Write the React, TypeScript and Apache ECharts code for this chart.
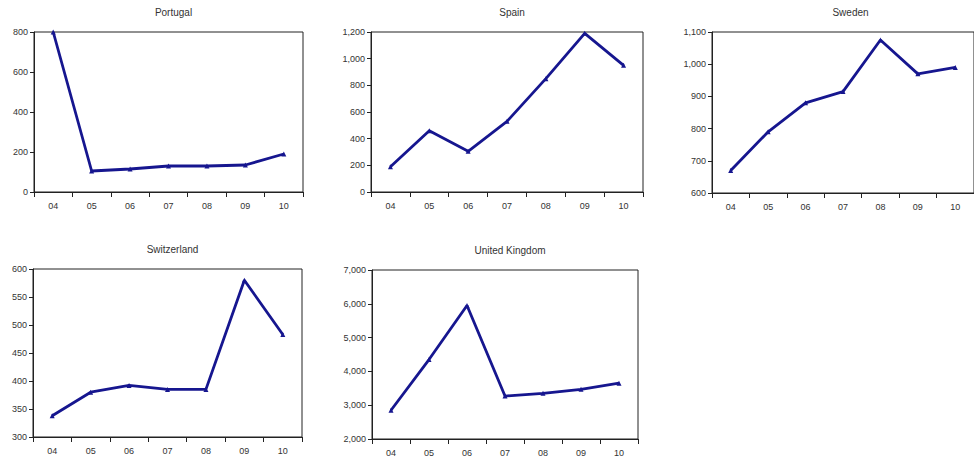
import React, { useEffect, useRef } from "react";
import * as echarts from "echarts";

const years = ["04", "05", "06", "07", "08", "09", "10"];
const portugal = [800, 105, 115, 130, 130, 135, 190];
const spain = [190, 460, 305, 530, 850, 1190, 950];
const sweden = [670, 790, 880, 915, 1075, 970, 990];
const switzerland = [338, 380, 392, 385, 385, 580, 483];
const uk = [2850, 4350, 5950, 3270, 3350, 3470, 3650];

const panels = [
  { name: "Portugal", data: portugal, min: 0, max: 800, interval: 200, grid: { left: 34, top: 32, width: 269, height: 160 } },
  { name: "Spain", data: spain, min: 0, max: 1200, interval: 200, grid: { left: 371, top: 32, width: 272, height: 160 } },
  { name: "Sweden", data: sweden, min: 600, max: 1100, interval: 100, grid: { left: 712, top: 32, width: 267, height: 161 } },
  { name: "Switzerland", data: switzerland, min: 300, max: 600, interval: 50, grid: { left: 33, top: 269, width: 269, height: 168 } },
  { name: "United Kingdom", data: uk, min: 2000, max: 7000, interval: 1000, grid: { left: 372, top: 270, width: 266, height: 169 } },
];

const LINE = "#16168f";
const FONT = "Liberation Sans";

export default function App() {
  const ref = useRef<HTMLDivElement>(null);
  useEffect(() => {
    document.body.style.margin = "0";
    const chart = echarts.init(ref.current!, undefined, { renderer: "svg" });
    const fmt = (v: number) => v.toLocaleString("en-US");
    chart.setOption({
      animation: false,
      backgroundColor: "#ffffff",
      title: panels.map((p) => ({
        text: p.name,
        left: p.grid.left + p.grid.width / 2,
        top: p.grid.top - 30,
        textAlign: "center",
        textStyle: { fontFamily: FONT, fontSize: 10, fontWeight: "normal", color: "#333" },
      })),
      grid: panels.map((p) => ({
        ...p.grid,
        show: true,
        borderColor: "#222",
        borderWidth: 1,
        containLabel: false,
      })),
      xAxis: panels.map((p, i) => ({
        type: "category",
        gridIndex: i,
        data: years,
        boundaryGap: true,
        axisLine: { show: true, lineStyle: { color: "#222", width: 1 } },
        axisTick: { show: true, length: 5, lineStyle: { color: "#222" } },
        axisLabel: { fontFamily: FONT, fontSize: 9, color: "#333", margin: 9 },
        splitLine: { show: false },
      })),
      yAxis: panels.map((p, i) => ({
        type: "value",
        gridIndex: i,
        min: p.min,
        max: p.max,
        interval: p.interval,
        axisLine: { show: true, lineStyle: { color: "#222", width: 1 } },
        axisTick: { show: true, length: 4, lineStyle: { color: "#222" } },
        axisLabel: { fontFamily: FONT, fontSize: 9, color: "#333", margin: 6, formatter: fmt },
        splitLine: { show: false },
      })),
      series: panels.map((p, i) => ({
        type: "line",
        name: p.name,
        xAxisIndex: i,
        yAxisIndex: i,
        data: p.data,
        symbol: "triangle",
        symbolSize: 5,
        showAllSymbol: true,
        lineStyle: { color: LINE, width: 2.8 },
        itemStyle: { color: LINE },
        clip: false,
      })),
    });
    return () => chart.dispose();
  }, []);
  return <div ref={ref} style={{ width: 974, height: 459 }} />;
}
